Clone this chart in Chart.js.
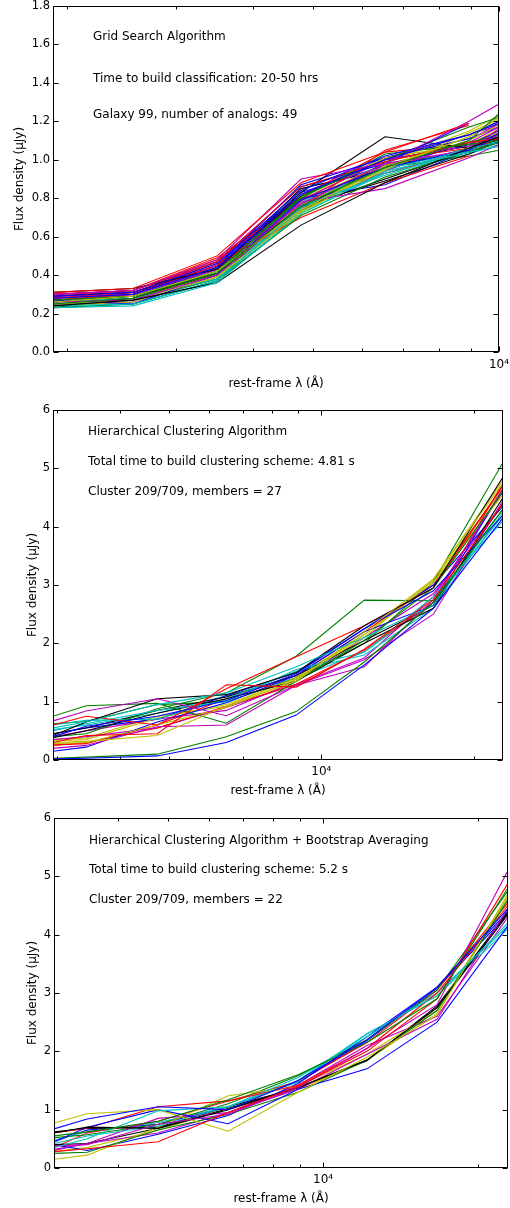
<!DOCTYPE html>
<html>
<head>
<meta charset="utf-8">
<script src="https://cdn.jsdelivr.net/npm/chart.js@4.4.1/dist/chart.umd.min.js"></script>
<style>
  body { margin: 0; background: #fff; }
  canvas { display: block; }
</style>
</head>
<body>
<canvas id="grid-chart" width="510" height="400"></canvas>
<canvas id="hier-chart" width="510" height="400"></canvas>
<canvas id="boot-chart" width="510" height="408"></canvas>
<script>
'use strict';

/* DATA */
// matplotlib classic colour cycle: b g r c m y k
let lineColors = ['#0000ff', '#008000', '#ff0000', '#00bfbf', '#bf00bf', '#bfbf00', '#000000'];

let xTickValues = [2000, 3000, 4000, 5000, 6000, 7000, 8000, 9000, 10000, 20000];

// panel 1: grid search, 49 analogs
let gridLambda = [1900, 2559, 3499, 4784, 6541, 8944, 10000];
let gridYTicks = [0, 0.2, 0.4, 0.6, 0.8, 1.0, 1.2, 1.4, 1.6, 1.8];
let gridNotes = ['Grid Search Algorithm', 'Time to build classification: 20-50 hrs', 'Galaxy 99, number of analogs: 49'];
let gridFlux = [
  [0.28, 0.30, 0.44, 0.82, 1.00, 1.13, 1.19],
  [0.25, 0.28, 0.41, 0.76, 0.96, 1.10, 1.24],
  [0.31, 0.33, 0.50, 0.88, 1.04, 1.19],
  [0.23, 0.24, 0.36, 0.72, 0.94, 1.04, 1.07],
  [0.30, 0.32, 0.48, 0.90, 0.98, 1.20, 1.29],
  [0.26, 0.29, 0.42, 0.74, 0.96, 1.12, 1.22],
  [0.24, 0.27, 0.36, 0.66, 0.88, 1.06, 1.12],
  [0.29, 0.31, 0.46, 0.84, 1.02, 1.13, 1.20],
  [0.27, 0.29, 0.42, 0.80, 1.03, 1.08, 1.10],
  [0.30, 0.32, 0.47, 0.86, 0.99, 1.09, 1.11],
  [0.24, 0.25, 0.37, 0.75, 0.93, 1.06, 1.09],
  [0.26, 0.27, 0.40, 0.78, 0.85, 1.01, 1.08],
  [0.25, 0.27, 0.39, 0.73, 0.95, 1.14, 1.21],
  [0.31, 0.33, 0.43, 0.83, 1.12, 1.06, 1.09],
  [0.27, 0.25, 0.40, 0.79, 0.96, 1.05, 1.14],
  [0.23, 0.25, 0.37, 0.71, 0.91, 1.04, 1.09],
  [0.28, 0.31, 0.46, 0.70, 0.88, 1.02],
  [0.26, 0.28, 0.38, 0.76, 0.92, 1.05, 1.10],
  [0.29, 0.30, 0.44, 0.77, 0.98, 1.05, 1.16],
  [0.24, 0.26, 0.39, 0.72, 0.97, 1.10, 1.18],
  [0.25, 0.28, 0.41, 0.76, 0.89, 1.03, 1.10],
  [0.30, 0.32, 0.47, 0.86, 0.98, 1.19],
  [0.26, 0.29, 0.41, 0.81, 1.00, 1.17, 1.22],
  [0.27, 0.30, 0.45, 0.75, 1.05, 1.18],
  [0.25, 0.27, 0.39, 0.74, 0.96, 1.04, 1.09],
  [0.28, 0.30, 0.43, 0.79, 1.00, 1.07, 1.13],
  [0.26, 0.28, 0.40, 0.77, 0.95, 1.12, 1.20],
  [0.29, 0.31, 0.44, 0.81, 1.00, 1.07, 1.12],
  [0.26, 0.29, 0.43, 0.80, 0.87, 1.05, 1.12],
  [0.24, 0.27, 0.38, 0.73, 0.99, 1.09, 1.13],
  [0.29, 0.32, 0.48, 0.79, 1.00, 1.06, 1.10],
  [0.27, 0.29, 0.42, 0.78, 0.95, 1.06, 1.13],
  [0.25, 0.26, 0.39, 0.76, 0.97, 1.09, 1.17],
  [0.27, 0.30, 0.43, 0.78, 0.98, 1.15, 1.23],
  [0.26, 0.28, 0.42, 0.75, 0.90, 1.05, 1.11],
  [0.28, 0.30, 0.45, 0.83, 0.97, 1.08, 1.15],
  [0.25, 0.27, 0.40, 0.79, 0.96, 1.02, 1.05],
  [0.30, 0.32, 0.49, 0.80, 0.93, 1.05, 1.09],
  [0.23, 0.25, 0.37, 0.72, 0.93, 1.03, 1.08],
  [0.27, 0.29, 0.42, 0.74, 0.94, 1.10, 1.19],
  [0.28, 0.30, 0.44, 0.80, 1.01, 1.08, 1.16],
  [0.23, 0.28, 0.40, 0.75, 0.97, 1.04, 1.09],
  [0.29, 0.31, 0.45, 0.87, 1.01, 1.11, 1.17],
  [0.26, 0.29, 0.40, 0.77, 0.98, 1.04, 1.10],
  [0.28, 0.31, 0.47, 0.81, 1.04, 1.08, 1.13],
  [0.24, 0.26, 0.38, 0.74, 0.96, 1.05, 1.11],
  [0.29, 0.31, 0.45, 0.82, 1.01, 1.13, 1.18],
  [0.25, 0.28, 0.41, 0.76, 0.97, 1.09, 1.14],
  [0.27, 0.29, 0.43, 0.85, 0.95, 1.06, 1.14],
];

// panel 2: hierarchical clustering, 27 members
let hierLambda = [2950, 3430, 4740, 6490, 8920, 12160, 16650, 22860];
let clusterYTicks = [0, 1, 2, 3, 4, 5, 6];
let hierNotes = ['Hierarchical Clustering Algorithm', 'Total time to build clustering scheme: 4.81 s', 'Cluster 209/709, members = 27'];
let hierFlux = [
  [0.02, 0.03, 0.07, 0.30, 0.77, 1.63, 2.60, 4.15],
  [0.03, 0.05, 0.10, 0.40, 0.83, 1.68, 2.70, 4.30],
  [0.30, 0.42, 0.45, 1.29, 1.25, 1.90, 2.75, 4.40],
  [0.55, 0.65, 0.95, 1.15, 1.60, 2.10, 2.65, 4.30],
  [0.67, 0.84, 1.05, 0.76, 1.28, 1.72, 2.50, 4.45],
  [0.30, 0.32, 0.42, 0.92, 1.35, 2.20, 3.10, 4.75],
  [0.42, 0.65, 1.05, 1.12, 1.50, 2.30, 2.95, 4.85],
  [0.40, 0.58, 0.75, 1.02, 1.48, 2.25, 2.90, 4.20],
  [0.75, 0.93, 0.97, 0.63, 1.35, 2.05, 2.95, 4.60],
  [0.60, 0.75, 0.60, 1.22, 1.77, 2.30, 2.95, 4.70],
  [0.50, 0.62, 0.85, 1.00, 1.55, 1.85, 2.80, 4.10],
  [0.20, 0.25, 0.57, 0.60, 1.28, 1.60, 2.75, 4.65],
  [0.28, 0.30, 0.60, 0.90, 1.38, 2.15, 3.05, 4.55],
  [0.38, 0.50, 0.80, 1.05, 1.35, 2.00, 2.60, 4.50],
  [0.15, 0.22, 0.65, 0.98, 1.45, 2.20, 2.65, 4.65],
  [0.40, 0.45, 0.88, 1.15, 1.78, 2.74, 2.73, 4.30],
  [0.25, 0.30, 0.55, 0.92, 1.30, 1.88, 2.70, 4.75],
  [0.60, 0.68, 0.70, 1.05, 1.52, 1.80, 2.60, 4.25],
  [0.35, 0.40, 0.55, 0.90, 1.30, 1.75, 2.80, 4.60],
  [0.33, 0.35, 0.72, 0.95, 1.40, 2.10, 3.10, 4.80],
  [0.45, 0.55, 0.85, 1.08, 1.45, 2.05, 2.65, 4.40],
  [0.45, 0.55, 0.70, 1.10, 1.50, 2.25, 3.00, 4.35],
  [0.62, 0.66, 0.95, 1.00, 1.40, 2.00, 3.05, 5.10],
  [0.26, 0.28, 0.60, 1.05, 1.45, 2.20, 3.00, 4.70],
  [0.52, 0.60, 0.80, 1.10, 1.40, 1.85, 2.70, 4.20],
  [0.40, 0.50, 0.70, 0.85, 1.35, 2.10, 2.85, 4.40],
  [0.35, 0.38, 0.75, 0.92, 1.42, 2.15, 3.08, 4.65],
];

// panel 3: hierarchical clustering + bootstrap averaging, 22 members
let bootLambda = [3000, 3480, 4780, 6540, 8940, 12170, 16650, 22870];
let bootNotes = ['Hierarchical Clustering Algorithm + Bootstrap Averaging', 'Total time to build clustering scheme: 5.2 s', 'Cluster 209/709, members = 22'];
let bootFlux = [
  [0.67, 0.84, 1.05, 1.00, 1.50, 2.20, 3.10, 4.45],
  [0.55, 0.62, 0.80, 1.17, 1.60, 2.15, 2.90, 4.80],
  [0.28, 0.33, 0.45, 0.95, 1.40, 2.00, 2.90, 4.88],
  [0.35, 0.50, 0.98, 1.05, 1.48, 2.30, 2.95, 4.20],
  [0.38, 0.40, 0.75, 0.92, 1.38, 2.05, 2.80, 5.10],
  [0.77, 0.93, 1.00, 0.63, 1.30, 1.90, 2.62, 4.70],
  [0.60, 0.70, 0.68, 1.00, 1.38, 1.85, 2.75, 4.35],
  [0.45, 0.70, 1.00, 0.76, 1.35, 1.70, 2.50, 4.15],
  [0.25, 0.27, 0.65, 0.92, 1.30, 1.85, 2.70, 4.60],
  [0.60, 0.68, 1.05, 1.15, 1.42, 2.05, 3.00, 4.50],
  [0.42, 0.55, 0.72, 1.05, 1.55, 2.25, 3.00, 4.15],
  [0.32, 0.42, 0.85, 0.95, 1.35, 1.95, 2.55, 4.45],
  [0.15, 0.22, 0.70, 1.24, 1.40, 1.95, 2.70, 4.65],
  [0.40, 0.42, 0.68, 1.02, 1.38, 1.85, 2.75, 4.40],
  [0.40, 0.30, 0.58, 0.90, 1.45, 2.25, 3.10, 4.40],
  [0.52, 0.57, 0.75, 1.10, 1.58, 2.20, 3.05, 4.75],
  [0.35, 0.60, 0.80, 1.15, 1.48, 2.15, 3.05, 4.55],
  [0.48, 0.62, 0.78, 1.05, 1.50, 2.30, 2.95, 4.10],
  [0.30, 0.42, 0.60, 0.95, 1.42, 2.10, 2.60, 4.30],
  [0.28, 0.35, 0.65, 1.02, 1.35, 1.85, 2.65, 4.65],
  [0.62, 0.68, 0.70, 1.05, 1.37, 1.84, 2.78, 4.38],
  [0.45, 0.65, 0.75, 1.05, 1.48, 2.18, 3.08, 4.35],
];

/* CHART DEFAULTS */
Chart.defaults.font.family = '"DejaVu Sans", sans-serif';
Chart.defaults.font.size = 12;
Chart.defaults.color = '#000000';

// box, inward ticks on all four sides, and the text notes
let framePlugin = {
  id: 'frame',
  afterDraw(chart, args, opts) {
    let { ctx, chartArea: a } = chart;
    let x = chart.scales.x;
    let y = chart.scales.y;
    let left = Math.round(a.left) + 0.5;
    let right = Math.round(a.right) - 0.5;
    let top = Math.round(a.top) + 0.5;
    let bottom = Math.round(a.bottom) - 0.5;
    ctx.save();
    ctx.strokeStyle = '#000000';
    ctx.lineWidth = 1;
    ctx.beginPath();
    y.ticks.forEach((t) => {
      let py = Math.round(y.getPixelForValue(t.value)) + 0.5;
      ctx.moveTo(left, py);
      ctx.lineTo(left + 5, py);
      ctx.moveTo(right, py);
      ctx.lineTo(right - 5, py);
    });
    x.ticks.forEach((t) => {
      let len = t.value === 10000 ? 5 : 3;
      let px = Math.round(x.getPixelForValue(t.value)) + 0.5;
      ctx.moveTo(px, bottom);
      ctx.lineTo(px, bottom - len);
      ctx.moveTo(px, top);
      ctx.lineTo(px, top + len);
    });
    ctx.stroke();
    ctx.strokeRect(left, top, right - left, bottom - top);

    ctx.fillStyle = '#000000';
    ctx.font = '12px "DejaVu Sans", sans-serif';
    ctx.textBaseline = 'middle';
    opts.lines.forEach((s, i) => {
      ctx.fillText(s, a.left + opts.dx, a.top + opts.dy[i]);
    });
    ctx.restore();
  },
};

function makeChart(canvasId, lambdas, fluxRows, yTicks, cfg) {
  let ctx = document.getElementById(canvasId).getContext('2d');
  let datasets = fluxRows.map((row, i) => ({
    data: row.map((v, k) => ({ x: lambdas[k], y: v })),
    borderColor: lineColors[i % lineColors.length],
    borderWidth: 1.1,
    pointRadius: 0,
    fill: false,
    tension: 0,
  }));

  let xMin = lambdas[0];
  let xMax = lambdas[lambdas.length - 1];

  return new Chart(ctx, {
    type: 'line',
    data: { datasets: datasets },
    options: {
      responsive: false,
      animation: false,
      layout: {
        padding: { left: 0, right: cfg.padRight, top: cfg.padTop, bottom: 0 },
      },
      plugins: {
        legend: { display: false },
        tooltip: { enabled: false },
        frame: { lines: cfg.notes, dx: cfg.noteX, dy: cfg.noteY },
      },
      scales: {
        x: {
          type: 'logarithmic',
          min: xMin,
          max: xMax,
          afterBuildTicks: (s) => {
            s.ticks = xTickValues
              .filter((v) => v > xMin && v <= xMax)
              .map((v) => ({ value: v }));
          },
          afterFit: (s) => {
            s.height = cfg.xAxisHeight;
            s.paddingLeft = 0;
            s.paddingRight = 0;
          },
          ticks: {
            autoSkip: false,
            maxRotation: 0,
            minRotation: 0,
            padding: cfg.xTickPad,
            font: { size: 12 },
            callback: (v) => (v === 10000 ? '10⁴' : ''),
          },
          grid: { display: false, drawTicks: false },
          border: { display: false },
          title: {
            display: true,
            text: 'rest-frame λ (Å)',
            padding: { top: 0, bottom: cfg.xTitlePad },
          },
        },
        y: {
          type: 'linear',
          min: 0,
          max: yTicks[yTicks.length - 1],
          afterBuildTicks: (s) => {
            s.ticks = yTicks.map((v) => ({ value: v }));
          },
          afterFit: (s) => {
            s.width = cfg.yAxisWidth;
            s.paddingTop = 0;
            s.paddingBottom = 0;
          },
          ticks: {
            padding: 3,
            font: { size: 11.5 },
            callback: (v) => v.toFixed(cfg.decimals),
          },
          grid: { display: false, drawTicks: false },
          border: { display: false },
          title: {
            display: true,
            text: 'Flux density (μJy)',
            padding: { top: cfg.yTitlePad, bottom: 0 },
          },
        },
      },
    },
    plugins: [framePlugin],
  });
}

makeChart('grid-chart', gridLambda, gridFlux, gridYTicks, {
  padRight: 11, padTop: 6, yAxisWidth: 53, xAxisHeight: 48,
  xTickPad: 6, xTitlePad: 9, yTitlePad: 13, decimals: 1,
  notes: gridNotes, noteX: 40, noteY: [31, 73, 109],
});

makeChart('hier-chart', hierLambda, hierFlux, clusterYTicks, {
  padRight: 7, padTop: 10, yAxisWidth: 53, xAxisHeight: 40,
  xTickPad: 5, xTitlePad: 2, yTitlePad: 26, decimals: 0,
  notes: hierNotes, noteX: 35, noteY: [22, 52, 82],
});

makeChart('boot-chart', bootLambda, bootFlux, clusterYTicks, {
  padRight: 2, padTop: 18, yAxisWidth: 54, xAxisHeight: 40,
  xTickPad: 5, xTitlePad: 2, yTitlePad: 26, decimals: 0,
  notes: bootNotes, noteX: 35, noteY: [23, 52, 82],
});
</script>
</body>
</html>
